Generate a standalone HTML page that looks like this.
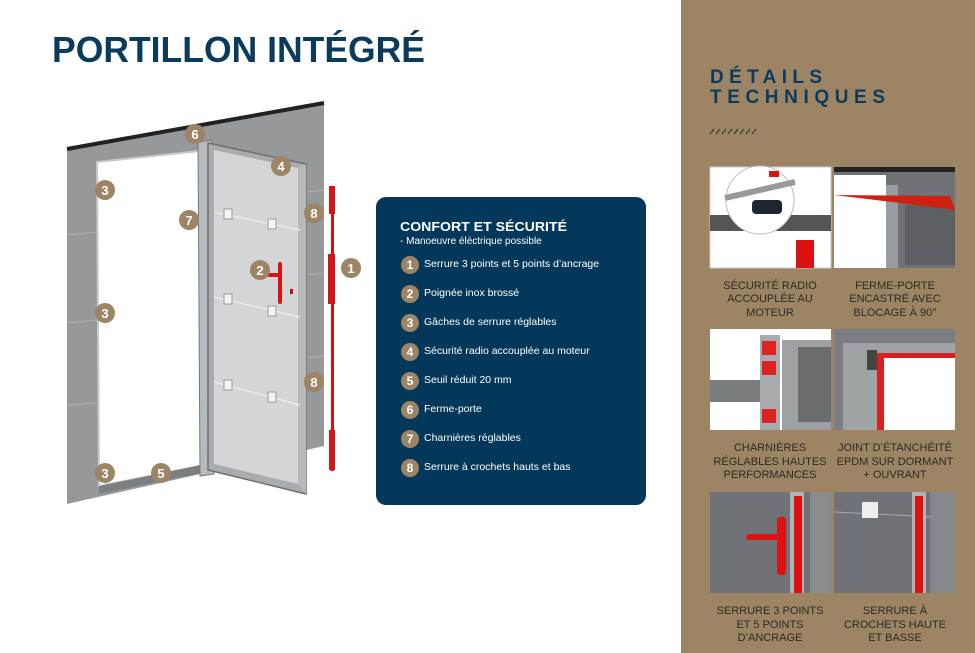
<!DOCTYPE html>
<html><head><meta charset="utf-8"><style>
html,body{margin:0;padding:0;background:#fff;}
svg{display:block;font-family:"Liberation Sans",sans-serif;}
</style></head><body>
<svg width="975" height="653" viewBox="0 0 975 653" xmlns="http://www.w3.org/2000/svg">
<rect width="975" height="653" fill="#fff"/>
<text x="52" y="62" font-size="36" font-weight="bold" fill="#0b3b5c" textLength="373" lengthAdjust="spacingAndGlyphs">PORTILLON INTÉGRÉ</text>

<!-- wall -->
<polygon points="67,150 324,104 324,446 67,504" fill="#96999c"/>
<line x1="67" y1="149" x2="324" y2="103" stroke="#222" stroke-width="4"/>
<g stroke="#aeb1b4" stroke-width="1">
<line x1="67" y1="235" x2="97" y2="232"/><line x1="67" y1="323" x2="97" y2="320"/><line x1="67" y1="405" x2="97" y2="403"/>
<line x1="306" y1="192" x2="324" y2="190"/><line x1="306" y1="275" x2="324" y2="273"/><line x1="306" y1="358" x2="324" y2="356"/>
</g>
<polygon points="97,162 200,151 202,466 99,486" fill="#fff" stroke="#c8c8c8" stroke-width="2"/>
<polygon points="99,486 205,464 207,472 99,494" fill="#7c7f82"/>
<polygon points="198,142 212,140 214,474 200,476" fill="#b8bbbe" stroke="#777" stroke-width="1"/>
<polygon points="208,143 306,164 306,494 208,470" fill="#a9acaf" stroke="#6c6f72" stroke-width="1.5"/>
<polygon points="214,150 298,168 298,484 214,464" fill="#d4d5d6"/>
<polygon points="298,168 306,164 306,494 298,484" fill="#b7b9bb"/>
<g stroke="#eee" stroke-width="1.2">
<line x1="214" y1="212" x2="300" y2="230"/><line x1="214" y1="297" x2="300" y2="317"/><line x1="214" y1="382" x2="300" y2="405"/>
</g>
<g fill="#f4f4f4" stroke="#888" stroke-width="0.8">
<rect x="224" y="209" width="8" height="10"/><rect x="268" y="219" width="8" height="10"/>
<rect x="224" y="294" width="8" height="10"/><rect x="268" y="306" width="8" height="10"/>
<rect x="224" y="380" width="8" height="10"/><rect x="268" y="392" width="8" height="10"/>
</g>
<rect x="278" y="262" width="4" height="42" fill="#d11" rx="2"/>
<rect x="268" y="273" width="12" height="4" fill="#d11"/>
<rect x="290" y="289" width="3" height="5" fill="#b11"/>
<!-- lock bar -->
<rect x="331" y="186" width="3" height="285" fill="#c91515"/>
<rect x="329" y="186" width="6" height="28" fill="#d01818"/>
<rect x="328" y="254" width="7" height="50" fill="#d01818"/>
<rect x="329" y="430" width="6" height="40" fill="#d01818"/>

<g font-weight="bold" font-size="13" fill="#fff" text-anchor="middle">
<g fill="#9c8464"><circle cx="195" cy="134" r="10"/><circle cx="281" cy="166" r="10"/><circle cx="105" cy="190" r="10"/><circle cx="189" cy="220" r="10"/><circle cx="314" cy="213" r="10"/><circle cx="260" cy="270" r="10"/><circle cx="351" cy="268" r="10"/><circle cx="105" cy="313" r="10"/><circle cx="314" cy="382" r="10"/><circle cx="105" cy="473" r="10"/><circle cx="161" cy="473" r="10"/></g>
<text x="195" y="139">6</text><text x="281" y="171">4</text><text x="105" y="195">3</text><text x="189" y="225">7</text><text x="314" y="218">8</text><text x="260" y="275">2</text><text x="351" y="273">1</text><text x="105" y="318">3</text><text x="314" y="387">8</text><text x="105" y="478">3</text><text x="161" y="478">5</text>
</g>

<rect x="376" y="197" width="270" height="308" rx="10" fill="#03385a"/>
<text x="400" y="231" font-size="13" font-weight="bold" fill="#fff" textLength="167" lengthAdjust="spacingAndGlyphs">CONFORT ET SÉCURITÉ</text>
<text x="400" y="244" font-size="10" fill="#fff">- Manoeuvre éléctrique possible</text>
<g font-size="10.5" fill="#fff">
<g fill="#9c8464"><circle cx="410" cy="265" r="9"/><circle cx="410" cy="294" r="9"/><circle cx="410" cy="323" r="9"/><circle cx="410" cy="352" r="9"/><circle cx="410" cy="381" r="9"/><circle cx="410" cy="410" r="9"/><circle cx="410" cy="439" r="9"/><circle cx="410" cy="468" r="9"/></g>
<g font-weight="bold" font-size="12" text-anchor="middle"><text x="410" y="269">1</text><text x="410" y="298">2</text><text x="410" y="327">3</text><text x="410" y="356">4</text><text x="410" y="385">5</text><text x="410" y="414">6</text><text x="410" y="443">7</text><text x="410" y="472">8</text></g>
<text x="424" y="267">Serrure 3 points et 5 points d’ancrage</text>
<text x="424" y="296">Poignée inox brossé</text>
<text x="424" y="325">Gâches de serrure réglables</text>
<text x="424" y="354">Sécurité radio accouplée au moteur</text>
<text x="424" y="383">Seuil réduit 20 mm</text>
<text x="424" y="412">Ferme-porte</text>
<text x="424" y="441">Charnières réglables</text>
<text x="424" y="470">Serrure à crochets hauts et bas</text>
</g>

<rect x="681" y="0" width="294" height="653" fill="#9c8464"/>
<g font-size="19" font-weight="bold" fill="#0b3b5c">
<text x="710" y="83" textLength="112" lengthAdjust="spacing">DÉTAILS</text>
<text x="710" y="103" textLength="175" lengthAdjust="spacing">TECHNIQUES</text>
</g>
<g stroke="#3e3a36" stroke-width="1.2">
<line x1="710" y1="134" x2="714" y2="129"/><line x1="716" y1="134" x2="720" y2="129"/><line x1="722" y1="134" x2="726" y2="129"/><line x1="728" y1="134" x2="732" y2="129"/><line x1="734" y1="134" x2="738" y2="129"/><line x1="740" y1="134" x2="744" y2="129"/><line x1="746" y1="134" x2="750" y2="129"/><line x1="752" y1="134" x2="756" y2="129"/>
</g>

<g>
<rect x="710" y="167" width="121" height="101" fill="#fff" stroke="#ccc"/>
<rect x="710" y="215" width="121" height="16" fill="#555"/>
<circle cx="760" cy="200" r="34" fill="#fff" stroke="#bbb"/>
<line x1="725" y1="198" x2="795" y2="182" stroke="#999" stroke-width="6"/>
<rect x="752" y="200" width="30" height="14" rx="4" fill="#1c2733"/>
<rect x="769" y="171" width="10" height="6" fill="#d11"/>
<rect x="796" y="240" width="18" height="28" fill="#d11"/>

<rect x="834" y="167" width="121" height="101" fill="#6f7276"/>
<rect x="834" y="167" width="121" height="5" fill="#222"/>
<rect x="834" y="175" width="52" height="93" fill="#fff"/>
<rect x="886" y="185" width="12" height="83" fill="#9a9da0"/>
<rect x="905" y="205" width="50" height="60" fill="#5c5f63"/>
<polygon points="834,195 950,196 955,210 900,203" fill="#c21"/>

<rect x="710" y="329" width="121" height="101" fill="#fff"/>
<rect x="710" y="380" width="60" height="22" fill="#7a7d80"/>
<rect x="760" y="335" width="20" height="95" fill="#a9acaf"/>
<rect x="782" y="340" width="49" height="90" fill="#9ea1a4"/>
<rect x="798" y="347" width="33" height="75" fill="#6a6d70"/>
<rect x="762" y="341" width="14" height="14" fill="#d22"/><rect x="762" y="361" width="14" height="14" fill="#d22"/><rect x="762" y="409" width="14" height="14" fill="#d22"/>

<rect x="834" y="329" width="121" height="101" fill="#7b7e82"/>
<rect x="843" y="343" width="112" height="87" fill="#a1a4a7"/>
<rect x="877" y="353" width="78" height="77" fill="#d82020"/>
<rect x="884" y="358" width="71" height="72" fill="#fff"/>
<rect x="867" y="350" width="10" height="20" fill="#444"/>

<rect x="710" y="492" width="121" height="101" fill="#6f7276"/>
<rect x="790" y="492" width="14" height="101" fill="#b0b3b6"/>
<rect x="794" y="496" width="8" height="97" fill="#d11"/>
<rect x="810" y="492" width="21" height="101" fill="#8a8d90"/>
<rect x="777" y="517" width="9" height="58" rx="3" fill="#d11"/>
<rect x="746" y="534" width="38" height="6" rx="3" fill="#d11"/>

<rect x="834" y="492" width="121" height="101" fill="#6f7276"/>
<line x1="834" y1="512" x2="955" y2="518" stroke="#aaa"/>
<rect x="862" y="502" width="16" height="16" fill="#eee"/>
<rect x="912" y="492" width="14" height="101" fill="#b0b3b6"/>
<rect x="915" y="496" width="8" height="97" fill="#d11"/>
<rect x="930" y="492" width="25" height="101" fill="#85888b"/>
</g>

<g font-size="11" fill="#2e2a24" text-anchor="middle">
<text x="770" y="289">SÉCURITÉ RADIO</text><text x="770" y="302">ACCOUPLÉE AU</text><text x="770" y="316">MOTEUR</text>
<text x="895" y="289">FERME-PORTE</text><text x="895" y="302">ENCASTRÉ AVEC</text><text x="895" y="316">BLOCAGE À 90°</text>
<text x="770" y="451">CHARNIÈRES</text><text x="770" y="465">RÉGLABLES HAUTES</text><text x="770" y="478">PERFORMANCES</text>
<text x="895" y="451">JOINT D’ÉTANCHÉITÉ</text><text x="895" y="465">EPDM SUR DORMANT</text><text x="895" y="478">+ OUVRANT</text>
<text x="770" y="614">SERRURE 3 POINTS</text><text x="770" y="628">ET 5 POINTS</text><text x="770" y="641">D’ANCRAGE</text>
<text x="895" y="614">SERRURE À</text><text x="895" y="628">CROCHETS HAUTE</text><text x="895" y="641">ET BASSE</text>
</g>
</svg>
</body></html>
